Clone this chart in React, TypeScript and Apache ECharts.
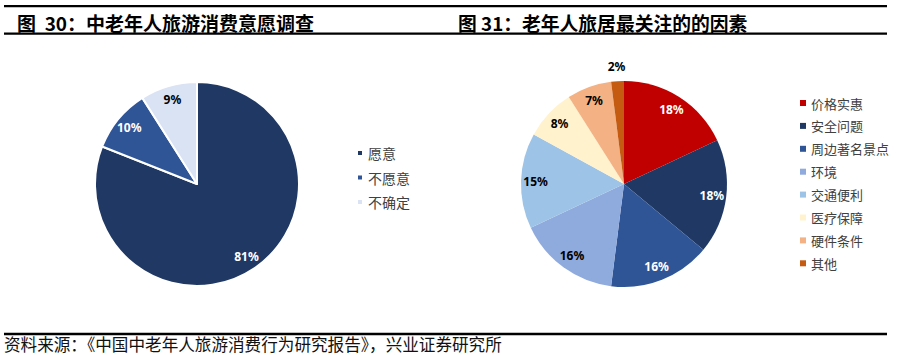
import React, { useEffect, useRef } from "react";
import * as echarts from "echarts";

const leftNames = ["愿意", "不愿意", "不确定"];
const leftValues = [81, 10, 9];
const leftColors = ["#203864", "#2F5597", "#DAE3F3"];
const leftLabelColors = ["#ffffff", "#ffffff", "#000000"];

const rightNames = ["价格实惠", "安全问题", "周边著名景点", "环境", "交通便利", "医疗保障", "硬件条件", "其他"];
const rightValues = [18, 18, 16, 16, 15, 8, 7, 2];
const rightColors = ["#C00000", "#203864", "#2F5597", "#8FAADC", "#9DC3E6", "#FFF2CC", "#F4B183", "#C55A11"];
const rightLabelColors = ["#ffffff", "#ffffff", "#ffffff", "#000000", "#000000", "#000000", "#000000", "#000000"];
const rightOutsideIdx = [7];

const titleLeft = "图  30：中老年人旅游消费意愿调查";
const titleRight = "图 31：老年人旅居最关注的的因素";
const sourceText = "资料来源：《中国中老年人旅游消费行为研究报告》，兴业证券研究所";

const CJK = '"Noto Sans CJK SC", "Noto Sans", sans-serif';
const NUM = '"Noto Sans", "Open Sans", sans-serif';

export default function App() {
  const ref = useRef<HTMLDivElement>(null);
  useEffect(() => {
    if (!ref.current) return;
    const chart = echarts.init(ref.current, undefined, { renderer: "svg" });
    const labelBase = {
      show: true,
      position: "inside",
      fontFamily: NUM,
      fontSize: 12,
      fontWeight: "bold",
      formatter: (p: any) => p.value + "%",
    };
    const mainPie = (names: string[], values: number[], colors: string[], center: number[], r: number, border: number) => ({
      type: "pie",
      center,
      radius: [0, r],
      startAngle: 90,
      clockwise: true,
      silent: true,
      label: { show: false },
      labelLine: { show: false },
      itemStyle: { borderColor: "#fff", borderWidth: border },
      data: names.map((n, i) => ({ name: n, value: values[i], itemStyle: { color: colors[i] } })),
    });
    const labelPie = (
      names: string[],
      values: number[],
      labelColors: string[],
      center: number[],
      radius: number[],
      showFn: (i: number) => boolean
    ) => ({
      type: "pie",
      center,
      radius,
      startAngle: 90,
      clockwise: true,
      silent: true,
      avoidLabelOverlap: false,
      legendHoverLink: false,
      itemStyle: { color: "transparent", borderWidth: 0 },
      emphasis: { disabled: true },
      labelLine: { show: false },
      label: labelBase,
      data: names.map((n, i) => ({
        name: n,
        value: values[i],
        itemStyle: { color: "transparent" },
        label: { show: showFn(i), color: labelColors[i] },
      })),
    });
    const legendBase = {
      orient: "vertical",
      padding: 0,
      icon: "rect",
      textStyle: { fontFamily: CJK, color: "#404040", lineHeight: 14 },
    };
    chart.setOption({
      animation: false,
      backgroundColor: "#ffffff",
      legend: [
        {
          ...legendBase,
          left: 356,
          top: 146,
          itemWidth: 6,
          itemHeight: 6,
          itemGap: 10.5,
          textStyle: { ...legendBase.textStyle, fontSize: 14 },
          data: leftNames,
        },
        {
          ...legendBase,
          left: 800,
          top: 96,
          itemWidth: 6,
          itemHeight: 6,
          itemGap: 8.9,
          textStyle: { ...legendBase.textStyle, fontSize: 13 },
          data: rightNames,
        },
      ],
      series: [
        mainPie(leftNames, leftValues, leftColors, [197, 184], 102, 2),
        mainPie(rightNames, rightValues, rightColors, [624, 184], 103, 0),
        labelPie(leftNames, leftValues, leftLabelColors, [197, 184], [68, 102], () => true),
        labelPie(rightNames, rightValues, rightLabelColors, [624, 184], [68, 103], (i) => !rightOutsideIdx.includes(i)),
        labelPie(rightNames, rightValues, rightLabelColors, [624, 184], [108, 122], (i) => rightOutsideIdx.includes(i)),
      ],
      graphic: [
        { type: "rect", shape: { x: 4, y: 5, width: 883, height: 2.3 }, style: { fill: "#000" }, silent: true },
        { type: "rect", shape: { x: 4, y: 32.5, width: 883, height: 2.3 }, style: { fill: "#000" }, silent: true },
        { type: "rect", shape: { x: 4, y: 332.8, width: 883, height: 2.5 }, style: { fill: "#000" }, silent: true },
        {
          type: "text",
          x: 17,
          y: 22,
          style: { text: titleLeft, fill: "#000", font: `bold 19px ${CJK}`, verticalAlign: "middle", align: "left" },
          silent: true,
        },
        {
          type: "text",
          x: 458,
          y: 22,
          style: { text: titleRight, fill: "#000", font: `bold 18.8px ${CJK}`, verticalAlign: "middle", align: "left" },
          silent: true,
        },
        {
          type: "text",
          x: 4,
          y: 344,
          style: { text: sourceText, fill: "#111", font: `normal 16.6px ${CJK}`, verticalAlign: "middle", align: "left" },
          silent: true,
        },
      ],
    });
    return () => chart.dispose();
  }, []);
  return (
    <div
      ref={ref}
      style={{ position: "fixed", left: 0, top: 0, width: 900, height: 355, background: "#fff" }}
    />
  );
}
